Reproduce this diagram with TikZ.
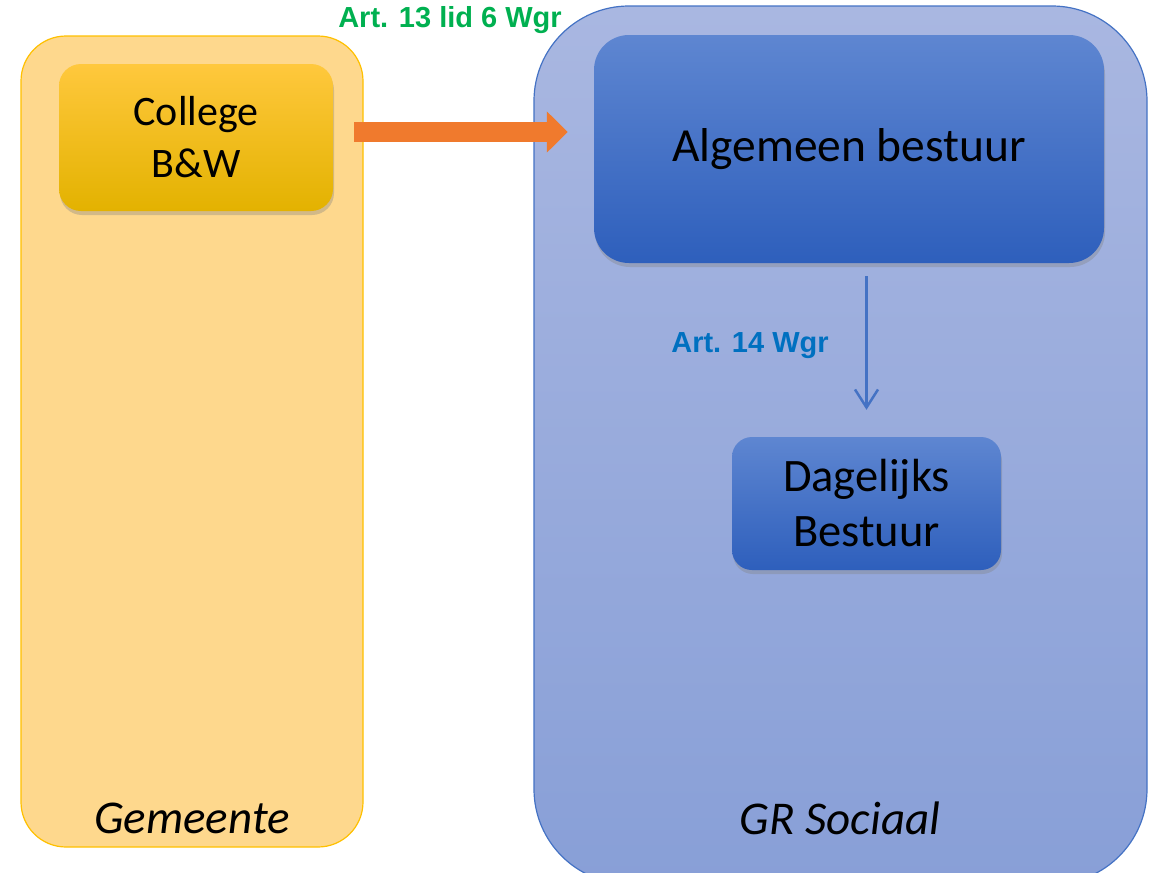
\documentclass[tikz,border=0pt]{standalone}
\usepackage{fontspec}
\setmainfont{Carlito}
\newfontfamily\artfont{Liberation Sans}
\usetikzlibrary{arrows.meta,shadows}

\definecolor{gemfill}{HTML}{FED88D}
\definecolor{gemline}{HTML}{FFC000}
\definecolor{grtop}{HTML}{A9B7E1}
\definecolor{grbottom}{HTML}{889FD7}
\definecolor{grline}{HTML}{4472C4}
\definecolor{bwtop}{HTML}{FFC83D}
\definecolor{bwbottom}{HTML}{E3B200}
\definecolor{abtop}{HTML}{5E86D1}
\definecolor{abbottom}{HTML}{2E5FBC}
\definecolor{artgreen}{HTML}{00B050}
\definecolor{artblue}{HTML}{0070C0}
\definecolor{pijl}{HTML}{F07A2D}

\begin{document}
\begin{tikzpicture}[x=1pt,y=-1pt,
    container/.style={rounded corners=45pt, inner sep=0pt, line width=1.2pt},
    orgbox/.style={inner sep=0pt, align=center,
        drop shadow={shadow xshift=1pt, shadow yshift=-4pt, opacity=0.35}},
    bluebox/.style={orgbox, top color=abtop, bottom color=abbottom},
    artlabel/.style={font=\artfont\bfseries\fontsize{29}{34}\selectfont},
    naam/.style={font=\itshape\fontsize{47}{54}\selectfont}]
        \useasboundingbox (0,0) rectangle (1152,873);

        % containers
        \node[container, fill=gemfill, draw=gemline, minimum width=342pt, minimum height=811pt] (gemeente) at (192,441.5) {};
        \node[container, rounded corners=95pt, top color=grtop, bottom color=grbottom, draw=grline, minimum width=613pt, minimum height=878pt] (gr) at (840.5,445) {};
        \node[naam] (gemeentetxt) at (192,818) {Gemeente};
        \node[naam] (grtxt) at (840,818) {GR Sociaal};

        % organen
        \node[orgbox, rounded corners=22pt, top color=bwtop, middle color=gemline, bottom color=bwbottom, minimum width=274pt, minimum height=147pt, font=\fontsize{42}{52}\selectfont] (college) at (196,137.5) {College\\B\&W};
        \node[bluebox, rounded corners=35pt, minimum width=510pt, minimum height=228pt, font=\fontsize{47.5}{56}\selectfont] (algemeen) at (849,149) {\raisebox{-3pt}{Algemeen bestuur}};
        \node[bluebox, rounded corners=20pt, minimum width=269pt, minimum height=133pt, font=\fontsize{46.5}{55}\selectfont] (dagelijks) at (866.5,503.5) {Dagelijks\\Bestuur};

        % pijlen
        \draw[pijl, line width=20pt, -{Triangle[length=21pt,width=40pt]}] ([xshift=21pt,yshift=5.5pt]college.east) -- ([xshift=-26pt,yshift=5.5pt]college.east -| algemeen.west);
        \draw[grline, line width=2.5pt, shorten <=13pt, shorten >=27pt, -{Straight Barb[length=18pt,width=23pt]}] (algemeen.south -| dagelijks.north) -- (dagelijks.north);

        \node[artlabel, text=artgreen] (art13) at (450,20) {Art. 13 lid 6 Wgr};
        \node[artlabel, text=artblue] (art14) at (750,346) {Art. 14 Wgr};

        \end{tikzpicture}
\end{document}
